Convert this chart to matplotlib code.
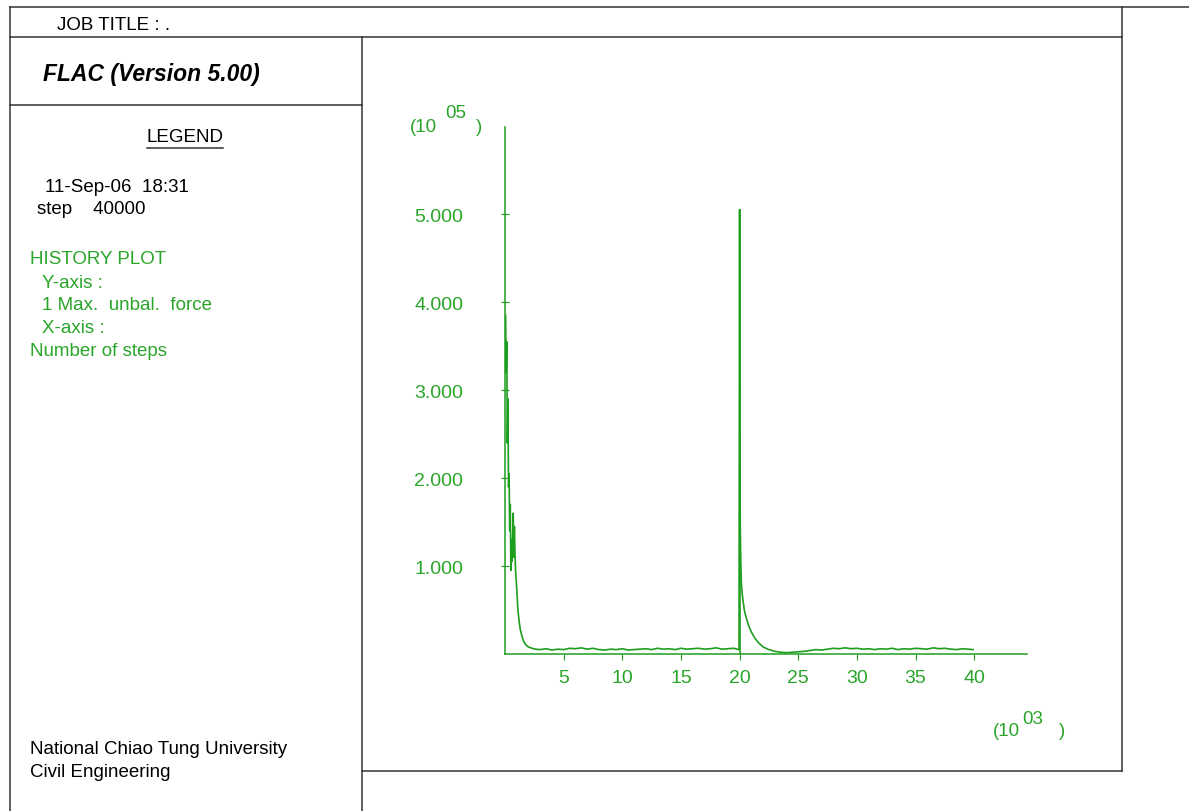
"""
FLAC 5.00 history plot: max. unbalanced force vs number of steps.
Page frame, legend panel and the plot itself, laid out in pixel coords.
"""
import matplotlib
matplotlib.use("Agg")
import matplotlib.pyplot as plt
from matplotlib.lines import Line2D
from matplotlib.transforms import Affine2D

plt.rcParams["font.family"] = ["Liberation Sans", "DejaVu Sans"]

W, H = 1189, 812

# --- history data: steps (x 10^3) and max. unbalanced force (x 10^5) ---
steps = [0.05, 0.10, 0.15, 0.20, 0.25, 0.30, 0.35, 0.40, 0.45, 0.50, 0.55, 0.60,
         0.70, 0.75, 0.80, 0.85, 0.90, 1.00, 1.10, 1.20, 1.30, 1.45, 1.60, 1.80,
         2.00, 2.30, 2.60, 3.0, 3.5, 4.0, 4.5, 5.0, 5.5, 6.0, 6.5, 7.0, 7.5, 8.0,
         8.5, 9.0, 9.5, 10.0, 10.5, 11.0, 11.5, 12.0, 12.5, 13.0, 13.5, 14.0,
         14.5, 15.0, 15.5, 16.0, 16.5, 17.0, 17.5, 18.0, 18.5, 19.0, 19.5, 19.95,
         20.00, 20.03, 20.06, 20.10, 20.15, 20.25, 20.40, 20.55, 20.75, 21.00,
         21.30, 21.60, 22.00, 22.50, 23.00, 23.50, 24.0, 24.5, 25.0, 25.5, 26.0,
         26.5, 27.0, 27.5, 28.0, 28.5, 29.0, 29.5, 30.0, 30.5, 31.0, 31.5, 32.0,
         32.5, 33.0, 33.5, 34.0, 34.5, 35.0, 35.5, 36.0, 36.5, 37.0, 37.5, 38.0,
         38.5, 39.0, 39.5, 39.9]
force = [3.85, 3.20, 3.55, 2.40, 2.90, 1.90, 2.05, 1.40, 1.70, 0.95, 1.30, 1.05,
         1.60, 1.10, 1.45, 1.15, 0.95, 0.75, 0.50, 0.38, 0.28, 0.20, 0.14, 0.10,
         0.08, 0.065, 0.055, 0.05, 0.06, 0.045, 0.055, 0.05, 0.065, 0.06, 0.07,
         0.055, 0.065, 0.05, 0.045, 0.055, 0.05, 0.06, 0.045, 0.05, 0.055, 0.06,
         0.05, 0.065, 0.055, 0.06, 0.05, 0.065, 0.055, 0.06, 0.065, 0.055, 0.06,
         0.07, 0.055, 0.06, 0.065, 0.05,
         5.05, 2.05, 1.40, 1.05, 0.80, 0.65, 0.50, 0.42, 0.33, 0.25,
         0.18, 0.13, 0.08, 0.05, 0.03, 0.02, 0.015, 0.02, 0.025, 0.03, 0.04,
         0.05, 0.045, 0.055, 0.065, 0.06, 0.07, 0.06, 0.065, 0.055, 0.06, 0.05,
         0.06, 0.055, 0.065, 0.05, 0.06, 0.055, 0.065, 0.06, 0.055, 0.07, 0.06,
         0.065, 0.055, 0.05, 0.06, 0.055, 0.05]

x_ticks = [5, 10, 15, 20, 25, 30, 35, 40]
y_ticks = [1, 2, 3, 4, 5]
y_ticklabels = ["1.000", "2.000", "3.000", "4.000", "5.000"]

green = "#2aa52a"
line_green = "#1e9e1e"
frame = "#333333"
fs = 13.5

fig = plt.figure(figsize=(W / 100, H / 100), dpi=100)
# pixel transform, origin top-left
px = Affine2D().scale(1 / W, -1 / H).translate(0, 1) + fig.transFigure


def hline(y, x0, x1, **kw):
    fig.add_artist(Line2D([x0, x1], [y, y], transform=px, color=frame, lw=1.1, **kw))


def vline(x, y0, y1, **kw):
    fig.add_artist(Line2D([x, x], [y0, y1], transform=px, color=frame, lw=1.1, **kw))


def txt(x, y, s, **kw):
    # y given as text centre in pixels from top, nudged for descender space
    fig.text(x / W, 1 - (y + 2) / H, s, va="center", **kw)


# page frame
hline(8, 10, 1189)
hline(38, 10, 1122)
hline(106, 10, 362)
hline(772, 362, 1122)
vline(10, 8, 812)
vline(362, 38, 812)
vline(1122, 8, 772)

# header and legend panel
txt(57, 23, "JOB TITLE : .", fontsize=fs)
txt(43, 73, "FLAC (Version 5.00)", fontsize=16.5, fontweight="bold", style="italic")
fig.text(185 / W, 1 - 138 / H, "LEGEND", fontsize=fs, ha="center", va="center")
hline(149, 147, 223)

txt(45, 185, "11-Sep-06  18:31", fontsize=fs)
txt(37, 208, "step    40000", fontsize=fs)

legend_lines = [(30, 257, "HISTORY PLOT"), (42, 281, "Y-axis :"),
                (42, 304, "1 Max.  unbal.  force"), (42, 327, "X-axis :"),
                (30, 350, "Number of steps")]
for x, y, s in legend_lines:
    txt(x, y, s, fontsize=fs, color=green)

txt(30, 748, "National Chiao Tung University", fontsize=fs)
txt(30, 771, "Civil Engineering", fontsize=fs)

# plot area
ax = fig.add_axes([505 / W, 1 - 655 / H, (1027 - 505) / W, (655 - 128) / H])
ax.plot(steps, force, color=line_green, lw=1.2)
ax.plot([20.0, 20.0], [0, 5.05], color=line_green, lw=1.2)
ax.set_xlim(0, 44.5)
ax.set_ylim(0, 5.99)
for s in ("top", "right"):
    ax.spines[s].set_visible(False)
for s in ("left", "bottom"):
    ax.spines[s].set_color(line_green)
    ax.spines[s].set_linewidth(1.1)
ax.set_xticks(x_ticks)
ax.set_yticks(y_ticks)
ax.set_yticklabels(y_ticklabels)
ax.tick_params(axis="x", colors=line_green, labelcolor=green, labelsize=14,
               direction="out", length=4, pad=6.5)
ax.tick_params(axis="y", colors=line_green, labelcolor=green, labelsize=14,
               direction="inout", length=6, pad=27)

# scale factors
txt(410, 125, "(10", fontsize=fs, color=green)
txt(445, 112, "05", fontsize=fs, color=green)
txt(476, 125, ")", fontsize=fs, color=green)
txt(993, 730, "(10", fontsize=fs, color=green)
txt(1022, 718, "03", fontsize=fs, color=green)
txt(1059, 730, ")", fontsize=fs, color=green)

fig.savefig("out.png", dpi=100)
